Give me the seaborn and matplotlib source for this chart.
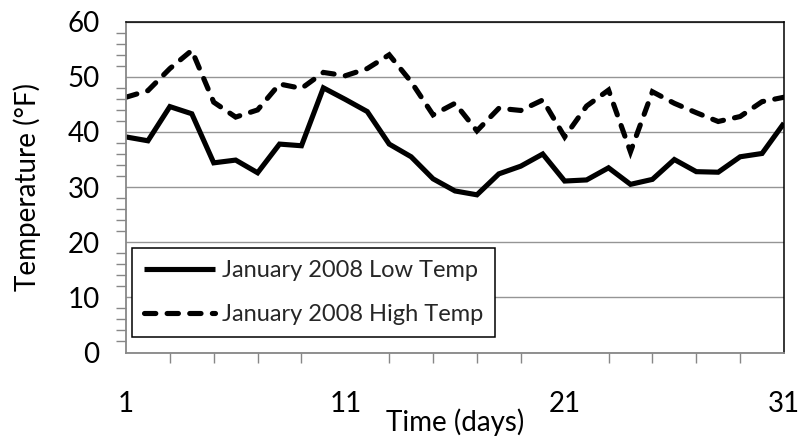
import matplotlib
matplotlib.use("Agg")
import matplotlib.pyplot as plt
from matplotlib.ticker import FixedLocator
import numpy as np
import pandas as pd
import seaborn as sns

# Daily temperatures for January 2008 (°F)
days = list(range(1, 32))
low_temp = [39.1, 38.4, 44.6, 43.3, 34.4, 34.9, 32.6, 37.8, 37.5, 48.0,
            45.9, 43.7, 37.8, 35.5, 31.5, 29.3, 28.6, 32.4, 33.8, 36.0,
            31.1, 31.3, 33.5, 30.5, 31.4, 35.0, 32.8, 32.7, 35.5, 36.1, 41.6]
high_temp = [46.3, 47.5, 51.5, 54.8, 45.4, 42.7, 44.0, 48.7, 47.9, 50.8,
             50.2, 51.5, 54.0, 49.1, 43.1, 45.2, 40.2, 44.3, 43.9, 45.8,
             39.1, 44.7, 47.6, 36.4, 47.3, 45.2, 43.5, 41.9, 42.8, 45.5, 46.3]
series_names = ["January 2008 Low Temp", "January 2008 High Temp"]
x_ticks = [1, 11, 21, 31]
y_ticks = [0, 10, 20, 30, 40, 50, 60]

df = pd.DataFrame({
    "day": days * 2,
    "temp": low_temp + high_temp,
    "series": [series_names[0]] * len(days) + [series_names[1]] * len(days),
})

sns.set_theme(style="white")
plt.rcParams["font.family"] = ["Lato", "DejaVu Sans"]

DPI = 100
fig = plt.figure(figsize=(8.04, 4.43), dpi=DPI)
ax = fig.add_axes([126 / 804, 1 - 352.5 / 443, 658 / 804, 330.8 / 443])

LW = 3.7
sns.lineplot(data=df, x="day", y="temp", hue="series", style="series",
             palette=["black", "black"], dashes=[(None, None), (2.2, 2.2)],
             linewidth=LW, ax=ax, legend=True)
for line in ax.get_lines():
    line.set_dash_capstyle("round")
    line.set_solid_capstyle("butt")
    line.set_solid_joinstyle("miter")
    line.set_dash_joinstyle("miter")

ax.set_xlim(1, 31)
ax.set_ylim(0, 60)

axis_grey = "#878787"
grid_grey = "#959595"

ax.xaxis.set_major_locator(FixedLocator(x_ticks))
ax.xaxis.set_minor_locator(FixedLocator([d for d in range(1, 32, 2) if d not in x_ticks]))
ax.yaxis.set_major_locator(FixedLocator(y_ticks))
ax.yaxis.set_minor_locator(FixedLocator([v for v in range(0, 61, 2) if v not in y_ticks]))
ax.set_xticklabels([str(t) for t in x_ticks])
ax.set_yticklabels([str(t) for t in y_ticks])

ax.yaxis.grid(True, which="major", color=grid_grey, linewidth=1.0)
ax.xaxis.grid(False)

ax.tick_params(axis="x", which="major", direction="inout", length=14,
               width=1.0, color=axis_grey, pad=21, labelsize=20, labelcolor="black")
ax.tick_params(axis="x", which="minor", direction="out", length=7,
               width=1.0, color=axis_grey, bottom=True)
ax.tick_params(axis="y", which="major", direction="inout", length=14,
               width=1.0, color=axis_grey, pad=12, labelsize=20, labelcolor="black")
ax.tick_params(axis="y", which="minor", direction="out", length=7,
               width=1.0, color=axis_grey, left=True)

for side in ("left", "bottom"):
    ax.spines[side].set_color(axis_grey)
    ax.spines[side].set_linewidth(1.3)
for side in ("top", "right"):
    ax.spines[side].set_color("black")
    ax.spines[side].set_linewidth(1.1)

ax.set_xlabel("Time (days)", fontsize=20, color="black")
ax.set_ylabel("Temperature (°F)", fontsize=20, color="black")
ax.xaxis.set_label_coords(0.5, -0.170)
ax.yaxis.set_label_coords(-0.129, 0.5)

handles, labels = ax.get_legend_handles_labels()
leg = ax.legend(handles, labels, loc="lower left", bbox_to_anchor=(0.0096, 0.046),
                borderaxespad=0, frameon=True, fancybox=False, fontsize=17,
                handlelength=3.0, handletextpad=0.3, labelspacing=1.0,
                borderpad=0.5, framealpha=1)
leg.get_frame().set_edgecolor("black")
leg.get_frame().set_linewidth(1.1)
for h in leg.get_lines():
    h.set_linewidth(LW)
    h.set_dash_capstyle("round")

fig.savefig("out.png", dpi=DPI, facecolor="white")
